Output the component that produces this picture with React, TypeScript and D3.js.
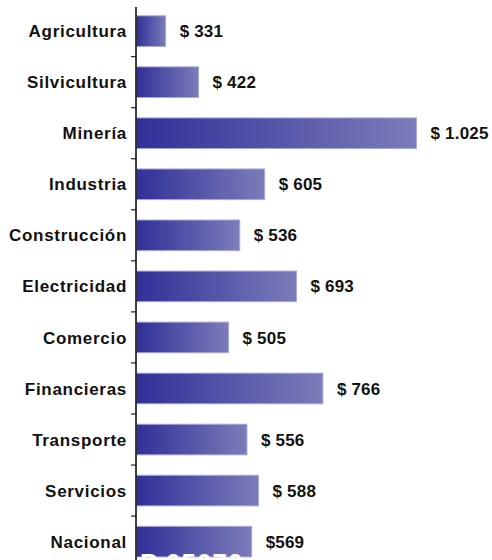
import React from "react";
import * as d3 from "d3";

const categories = ["Agricultura", "Silvicultura", "Minería", "Industria", "Construcción", "Electricidad", "Comercio", "Financieras", "Transporte", "Servicios", "Nacional"];
const values = [331, 422, 1025, 605, 536, 693, 505, 766, 556, 588, 569];
const valueLabels = ["$ 331", "$ 422", "$ 1.025", "$ 605", "$ 536", "$ 693", "$ 505", "$ 766", "$ 556", "$ 588", "$569"];
const overlayText = "P 05070";

const W = 492;
const H = 560;
const axisX = 136;

export default function App() {
  const y = d3.scaleBand<string>()
    .domain(categories)
    .range([5.6, 5.6 + 51.05 * categories.length])
    .paddingInner(0.4)
    .paddingOuter(0.2);
  const x = d3.scaleLinear().domain([249, 1025]).range([axisX, 416.5]);
  const step = y.step();
  const font = "'Liberation Sans', Arial, sans-serif";

  return (
    <svg width={W} height={H} style={{ position: "absolute", left: 0, top: 0, background: "#fff" }}>
      <defs>
        <linearGradient id="barGrad" x1="0" x2="1" y1="0" y2="0">
          <stop offset="0%" stopColor="#303098" />
          <stop offset="100%" stopColor="#7c7cba" />
        </linearGradient>
      </defs>
      {categories.map((c, i) => {
        const by = y(c)!;
        const bw = x(values[i]) - axisX;
        return (
          <g key={c}>
            <rect x={axisX + 0.5} y={by} width={bw - 0.5} height={y.bandwidth()} fill="url(#barGrad)" stroke="#a8a8dc" strokeWidth={1} />
            <text x={x(values[i]) + 14} y={by + y.bandwidth() / 2} dy="0.36em" fontFamily={font} fontWeight="bold" fontSize={17} letterSpacing={0.2} fill="#111">{valueLabels[i]}</text>
            <text x={127} y={by + y.bandwidth() / 2} dy="0.36em" textAnchor="end" fontFamily={font} fontWeight="bold" fontSize={17} letterSpacing={0.7} fill="#111">{c}</text>
          </g>
        );
      })}
      {categories.slice(1).map((c, i) => {
        const ty = 5.6 + step * (i + 1);
        return <line key={"t" + c} x1={131} x2={axisX} y1={ty} y2={ty} stroke="#222" strokeWidth={1.2} />;
      })}
      <line x1={axisX} x2={axisX} y1={7} y2={H} stroke="#111" strokeWidth={1.6} />
      <text x={140} y={572} fontFamily={font} fontWeight="bold" fontSize={26} fill="#fff" letterSpacing={1}>{overlayText}</text>
    </svg>
  );
}
